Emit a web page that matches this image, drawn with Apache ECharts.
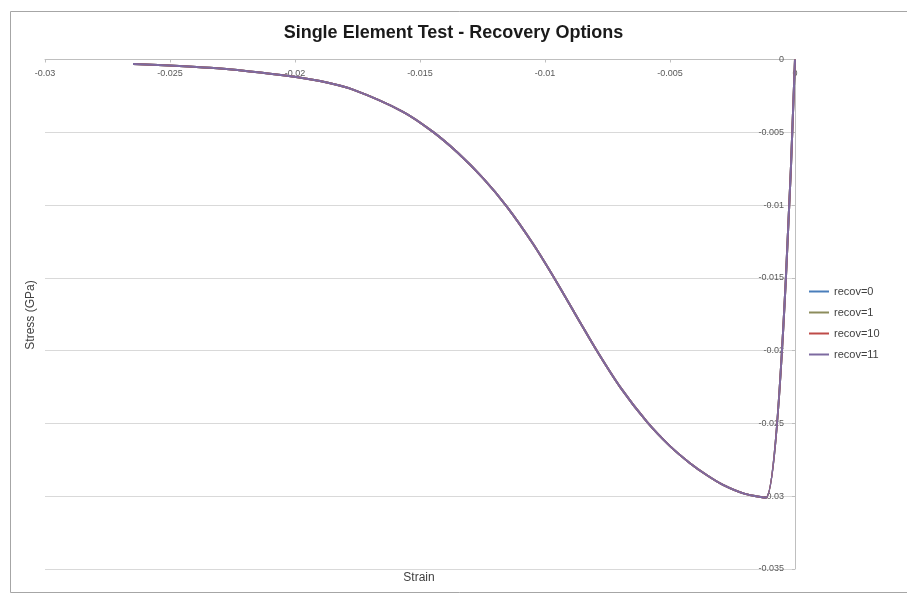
<!DOCTYPE html>
<html>
<head>
<meta charset="utf-8">
<script src="https://cdn.jsdelivr.net/npm/echarts@6/dist/echarts.min.js"></script>
<style>html,body{margin:0;padding:0;background:#fff;}#c{width:907px;height:597px;}</style>
</head>
<body>
<div id="c"></div>
<script>
// Data (strain, stress in GPa), starting at origin
const strain = [0, -0.00116, -0.0020, -0.00288, -0.00352, -0.0042, -0.0050, -0.00592, -0.0070, -0.00792, -0.0086, -0.00952, -0.01048, -0.01152, -0.01248, -0.0135, -0.01448, -0.01568, -0.01768, -0.0190, -0.02032, -0.0218, -0.0234, -0.02648];
const stress = [0, -0.0301, -0.02984, -0.02922, -0.02856, -0.02773, -0.02656, -0.0249, -0.02249, -0.02003, -0.01805, -0.01533, -0.01266, -0.01012, -0.00815, -0.00639, -0.00497, -0.00359, -0.00207, -0.00148, -0.00112, -0.00082, -0.00057, -0.00031];
const seriesNames = ['recov=0', 'recov=1', 'recov=10', 'recov=11'];
const seriesColors = ['#4a7ebb', '#8c8c5c', '#be4b48', '#7d6aa0'];
const xTicks = { min: -0.03, max: 0, interval: 0.005 };
const yTicks = { min: -0.035, max: 0, interval: 0.005 };

const pts = strain.map((s, i) => [s, stress[i]]);
const font = 'Liberation Sans, Arial, sans-serif';

const chart = echarts.init(document.getElementById('c'), null, { renderer: 'canvas' });
chart.setOption({
  backgroundColor: '#fff',
  animation: false,
  title: [{
    text: 'Single Element Test - Recovery Options',
    left: 'center', top: 19,
    textStyle: { fontFamily: font, fontSize: 18, fontWeight: 'bold', color: '#1a1a1a' }
  }],
  grid: { left: 45, right: 112, top: 59.5, bottom: 28, containLabel: false },
  legend: {
    orient: 'vertical', left: 804, top: 281, itemGap: 10,
    icon: 'rect', itemWidth: 20, itemHeight: 2,
    textStyle: { fontFamily: font, fontSize: 11, color: '#404040' },
    data: seriesNames
  },
  xAxis: {
    type: 'value', position: 'top', min: xTicks.min, max: xTicks.max, interval: xTicks.interval,
    axisLine: { show: true, onZero: false, lineStyle: { color: '#bfbfbf', width: 1 } },
    axisTick: { show: true, inside: true, length: 3, lineStyle: { color: '#bfbfbf' } },
    axisLabel: { inside: true, margin: 10, fontSize: 9, color: '#595959', fontFamily: font },
    splitLine: { show: false }
  },
  yAxis: {
    type: 'value', position: 'right', min: yTicks.min, max: yTicks.max, interval: yTicks.interval,
    axisLine: { show: true, onZero: false, lineStyle: { color: '#bfbfbf', width: 1 } },
    axisTick: { show: true, inside: true, length: 3, lineStyle: { color: '#bfbfbf' } },
    axisLabel: { inside: true, margin: 11, fontSize: 9, color: '#595959', fontFamily: font },
    splitLine: { show: true, lineStyle: { color: '#d9d9d9', width: 1 } }
  },
  graphic: [
    { type: 'rect', shape: { x: 10.5, y: 11.5, width: 905, height: 581 }, style: { fill: 'none', stroke: '#a6a6a6', lineWidth: 1 }, silent: true, z: -1 },
    { type: 'text', x: 419, y: 578, style: { text: 'Strain', fontFamily: font, fontSize: 12, fill: '#404040', textAlign: 'center', textVerticalAlign: 'middle' } },
    { type: 'text', x: 31, y: 315, rotation: Math.PI / 2, style: { text: 'Stress (GPa)', fontFamily: font, fontSize: 12, fill: '#404040', textAlign: 'center', textVerticalAlign: 'middle' } }
  ],
  series: seriesNames.map((n, i) => ({
    name: n, type: 'line', data: pts, showSymbol: false, smooth: 0.3,
    lineStyle: { color: seriesColors[i], width: 2 },
    itemStyle: { color: seriesColors[i] }
  }))
});
</script>
</body>
</html>
